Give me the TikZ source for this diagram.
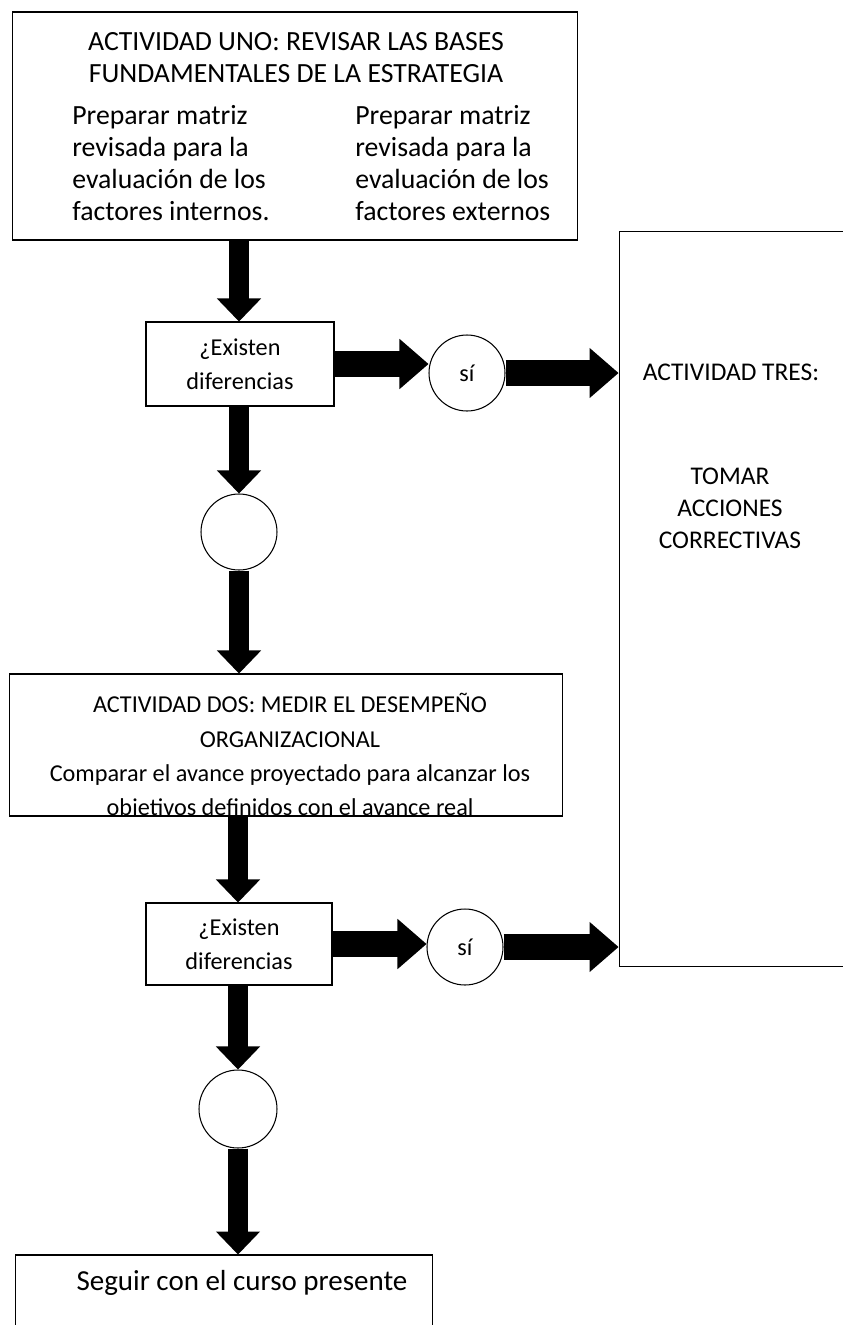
\documentclass[tikz,border=0pt]{standalone}
\usepackage{fontspec}
\setmainfont{Carlito}
\usetikzlibrary{arrows.meta}
\begin{document}
\begin{tikzpicture}[x=0.02cm,y=-0.02cm,
  caja/.style={draw,line width=0.6pt,inner sep=0pt},
  circulo/.style={draw,circle,line width=0.6pt,inner sep=0pt,minimum size=1.52cm},
  texto/.style={inner sep=0pt,font=\fontsize{13.8}{19.3}\selectfont},
  grande/.style={inner sep=0pt,font=\fontsize{15.8}{18.2}\selectfont},
  vflecha/.style={line width=0.4cm,-{Triangle[width=0.88cm,length=0.46cm,line width=0.8pt]}},
  hflecha/.style={line width=0.52cm,-{Triangle[width=1cm,length=0.58cm,line width=0.8pt]}}]
\useasboundingbox (0,0) rectangle (842,1325);
\node[caja,minimum width=11.32cm,minimum height=4.56cm] (uno) at (295,126) {};
\node[grande,align=center] (unotit) at (296,58) {ACTIVIDAD UNO: REVISAR LAS BASES\\FUNDAMENTALES DE LA ESTRATEGIA};
\node[grande,align=left,anchor=west] (internos) at (72,163) {Preparar matriz\\revisada para la\\evaluación de los\\factores internos.};
\node[grande,align=left,anchor=west] (externos) at (355,163) {Preparar matriz\\revisada para la\\evaluación de los\\factores externos};
\node[caja,texto,minimum width=3.76cm,minimum height=1.68cm,align=center] (ex1) at (240,364) {¿Existen\\diferencias};
\node[circulo,texto] (si1) at (467,373) {sí};
\node[circulo] (c1) at (239,532) {};
\node[caja,minimum width=11.08cm,minimum height=2.84cm] (dos) at (286,745) {};
\begin{scope}
\clip (dos.north west) rectangle (dos.south east);
\node[texto,align=center,anchor=north,font=\fontsize{13.8}{19.6}\selectfont] (dostxt) at (290,693) {ACTIVIDAD DOS: MEDIR EL DESEMPEÑO\\ORGANIZACIONAL\\Comparar el avance proyectado para alcanzar los\\objetivos definidos con el avance real};
\end{scope}
\node[caja,texto,minimum width=3.72cm,minimum height=1.64cm,align=center] (ex2) at (239,944) {¿Existen\\diferencias};
\node[circulo,texto] (si2) at (465,947) {sí};
\node[circulo,minimum size=1.56cm] (c2) at (238,1109) {};
\node[caja,minimum width=8.36cm,minimum height=1.8cm] (sigue) at (224,1300) {};
\node[grande,font=\fontsize{16.5}{19}\selectfont] (siguetxt) at (242,1283) {Seguir con el curso presente};
\node[caja,minimum width=5.02cm,minimum height=14.72cm] (tres) at (744.5,599) {};
\node[texto,font=\fontsize{14.5}{18.3}\selectfont] (trestit) at (731,372) {ACTIVIDAD TRES:};
\node[texto,align=center,font=\fontsize{14.5}{18.3}\selectfont] (tresacc) at (730,508) {TOMAR\\ACCIONES\\CORRECTIVAS};
\draw[vflecha] (uno.south -| c1.center) -- (ex1.north -| c1.center);
\draw[hflecha] (ex1.east) -- (ex1.east -| si1.west);
\draw[hflecha] (si1.east) -- (si1.east -| tres.west);
\draw[vflecha] (ex1.south -| c1.center) -- (c1.north);
\draw[vflecha] (c1.south) -- (dos.north -| c1.center);
\draw[vflecha] (dos.south -| c2.center) -- (ex2.north -| c2.center);
\draw[hflecha] (ex2.east) -- (ex2.east -| si2.west);
\draw[hflecha] (si2.east) -- (si2.east -| tres.west);
\draw[vflecha] (ex2.south -| c2.center) -- (c2.north);
\draw[vflecha] (c2.south) -- (sigue.north -| c2.center);
\end{tikzpicture}
\end{document}
